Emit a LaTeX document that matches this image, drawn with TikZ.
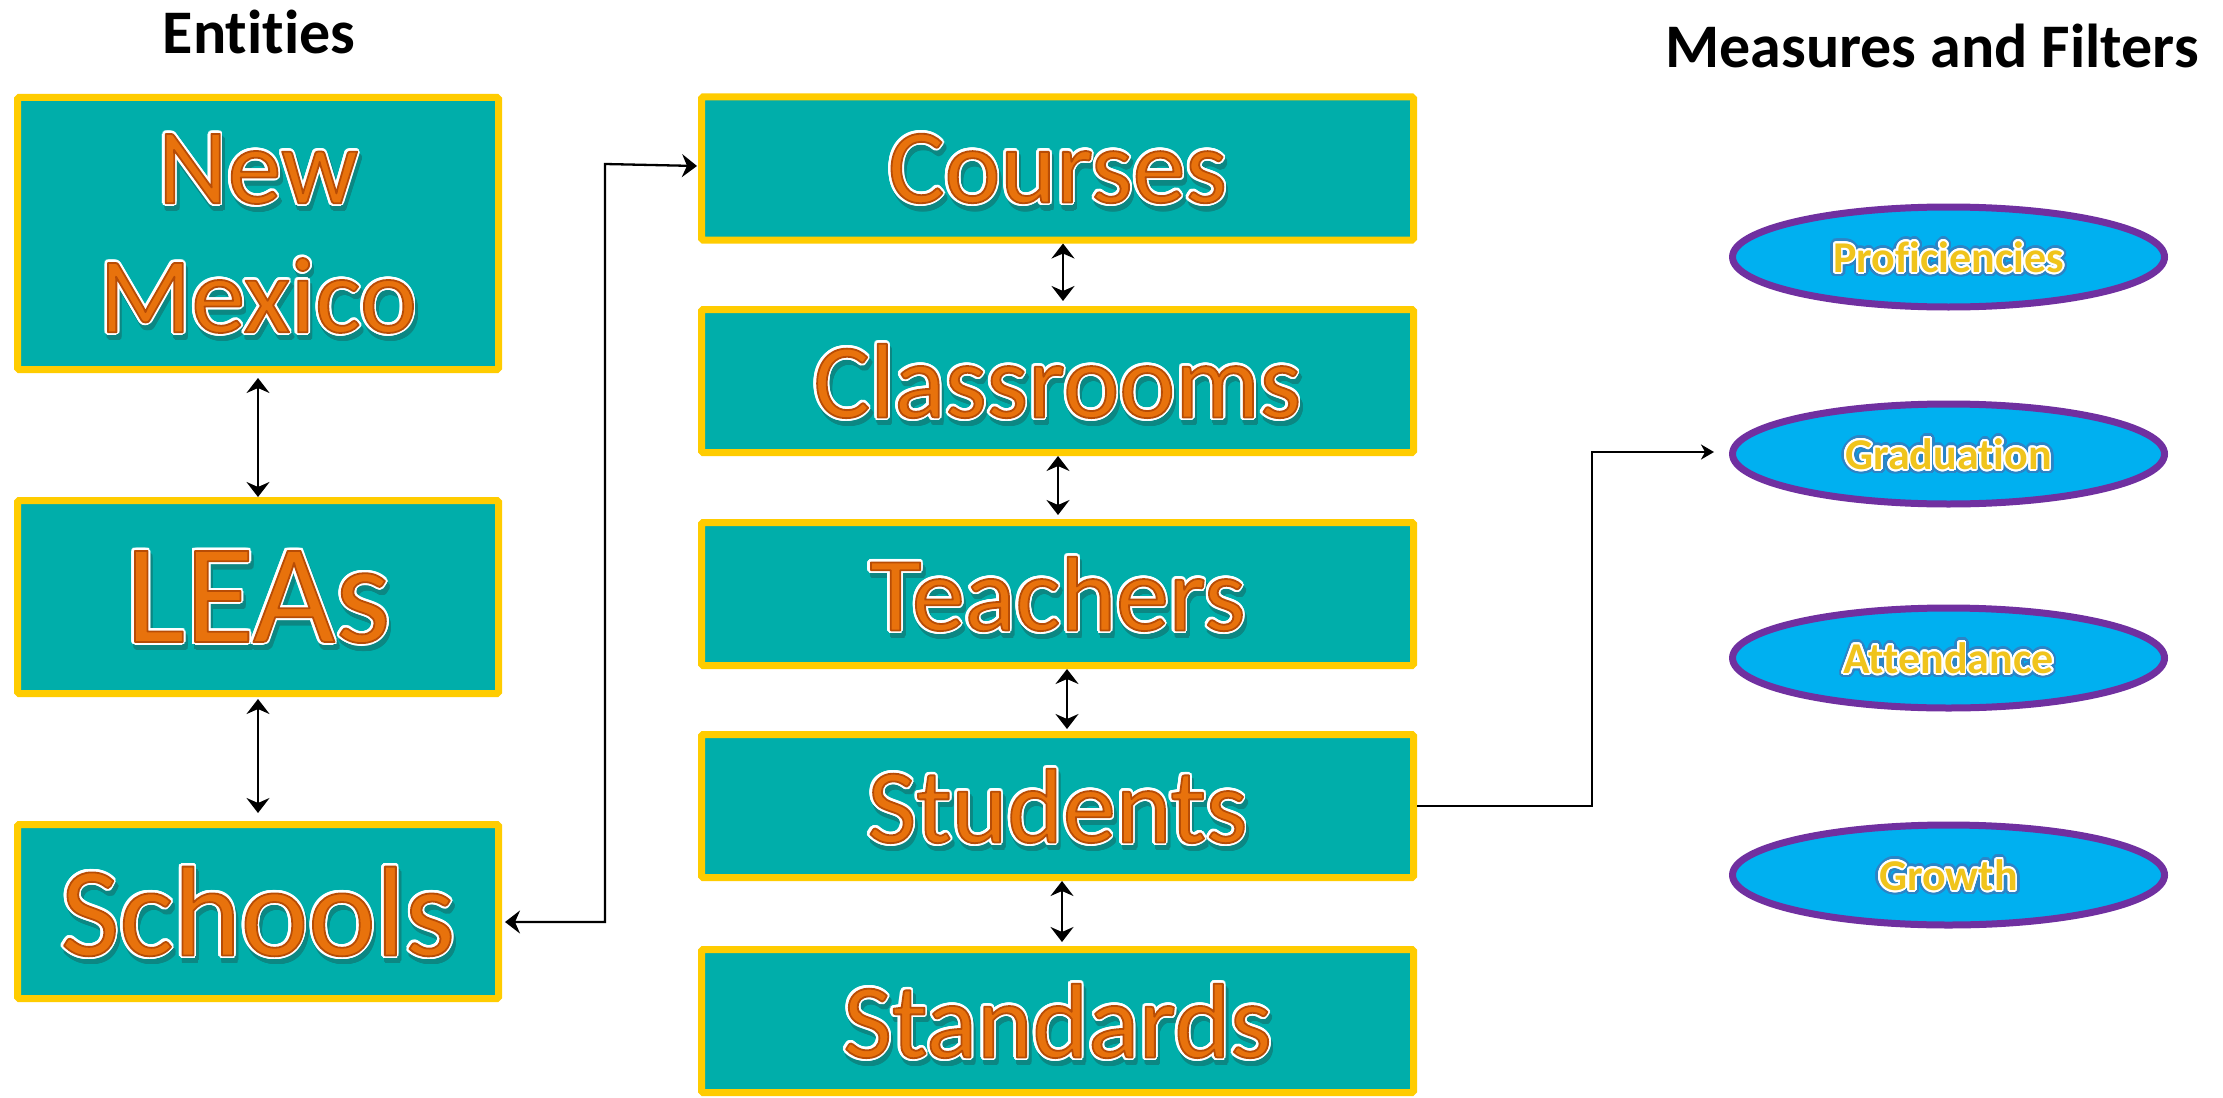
\documentclass[tikz,border=0pt]{standalone}
\usepackage{fontspec}
\setmainfont{Carlito}[Ligatures=NoCommon]
\usepackage{contour}
\contournumber{24}
\usetikzlibrary{arrows.meta,shapes.geometric}
\definecolor{tealfill}{HTML}{00AEAA}
\definecolor{boxborder}{HTML}{FFCC00}
\definecolor{ellfill}{HTML}{00B0F0}
\definecolor{ellborder}{HTML}{7030A0}
\definecolor{ofill}{HTML}{E8720C}
\definecolor{odark}{HTML}{B84E06}
\definecolor{tshadow}{HTML}{0C8783}
\definecolor{gfill}{HTML}{F0C41C}
\definecolor{gglow}{HTML}{2C84C6}
\newcommand\orangetxt[1]{\leavevmode\setbox0\hbox{#1}%
  \raisebox{0pt}[\ht0][\dp0]{%
  \rlap{\kern2.5pt\raisebox{-5.5pt}{\contourlength{3pt}\contour{tshadow}{\color{tshadow}#1}}}%
  \rlap{\contourlength{3pt}\contour{white}{\color{white}#1}}%
  {\color{ofill}\special{pdf:code q 1 j 1.8 w 0.72 0.30 0.02 RG 2 Tr}#1\special{pdf:code 0 Tr Q}}}}
\newcommand\goldtxt[1]{\leavevmode\setbox0\hbox{#1}%
  \raisebox{0pt}[\ht0][\dp0]{%
  \rlap{\contourlength{4.5pt}\contour{gglow}{\color{gglow}#1}}%
  {\contourlength{1.8pt}\contour{white}{\color{gfill}#1}}}}
\begin{document}
\begin{tikzpicture}[x=1pt,y=-1pt,
  entity/.style={draw=boxborder, line width=7pt, fill=tealfill, rounded corners=1.5pt, inner sep=0pt, align=center},
  midbox/.style={entity, minimum width=712pt, minimum height=143pt, font=\fontsize{106}{127}\selectfont},
  measure/.style={ellipse, draw=ellborder, line width=7pt, fill=ellfill, minimum width=432pt, minimum height=100pt, inner sep=0pt, font=\fontsize{44}{50}\selectfont\bfseries},
  headtitle/.style={font=\fontsize{62}{70}\selectfont\bfseries, anchor=base, inner sep=0pt},
  biarrow/.style={line width=2.3pt, {Stealth[length=15pt,width=23pt,inset=5pt]}-{Stealth[length=15pt,width=23pt,inset=5pt]}},
  conn/.style={line width=2.3pt}]
\fill[white] (0,0) rectangle (2223,1097);
\useasboundingbox (0,0) rectangle (2223,1097);

% titles
\node[headtitle] (t1) at (259,54) {Entities};
\node[headtitle] (t2) at (1932,68) {Measures and Filters};

% left column
\node[entity, minimum width=481pt, minimum height=272pt, font=\fontsize{108}{129}\selectfont] (nm) at (258,233.5) {\orangetxt{New}\\\orangetxt{Mexico}};
\node[entity, minimum width=481pt, minimum height=193pt, font=\fontsize{142}{160}\selectfont] (leas) at (258,597) {\orangetxt{LEAs}};
\node[entity, minimum width=481pt, minimum height=174pt, font=\fontsize{128}{150}\selectfont] (schools) at (258,911.5) {\orangetxt{Schools}};

% middle column
\node[midbox] (courses) at (1057.5,168.5) {\orangetxt{Courses}};
\node[midbox] (classrooms) at (1057.5,381) {\orangetxt{Classrooms}};
\node[midbox] (teachers) at (1057.5,594) {\orangetxt{Teachers}};
\node[midbox] (students) at (1057.5,806) {\orangetxt{Students}};
\node[midbox] (standards) at (1057.5,1021) {\orangetxt{Standards}};

% measures
\node[measure] (prof) at (1948.5,257) {\goldtxt{Proficiencies}};
\node[measure] (grad) at (1948.5,454) {\goldtxt{Graduation}};
\node[measure] (att) at (1948.5,658) {\goldtxt{Attendance}};
\node[measure] (growth) at (1948.5,875) {\goldtxt{Growth}};

% vertical double arrows
\draw[biarrow, shorten <=5pt] (nm.south) -- (leas.north);
\draw[biarrow, shorten <=2pt, shorten >=8pt] (leas.south) -- (schools.north);
\draw[biarrow, shorten >=5pt] ([xshift=5.5pt]courses.south) -- ([xshift=5.5pt]classrooms.north);
\draw[biarrow, shorten >=4pt] ([xshift=0.5pt]classrooms.south) -- ([xshift=0.5pt]teachers.north);
\draw[biarrow, shorten >=2pt] ([xshift=9.5pt]teachers.south) -- ([xshift=9.5pt]students.north);
\draw[biarrow, shorten >=4pt] ([xshift=4.5pt]students.south) -- ([xshift=4.5pt]standards.north);

% schools <-> courses
\coordinate (j1) at (605,922);
\coordinate (j2) at (605,164);
\draw[conn, {Stealth[length=15pt,width=23pt,inset=5pt]}-{Stealth[length=15pt,width=23pt,inset=5pt]}, line join=miter]
  ([yshift=-10.5pt,xshift=3pt]schools.east) -- (j1) -- (j2) -- ([yshift=2.5pt,xshift=-1pt]courses.west);

% students -> graduation
\coordinate (k1) at (1592,806);
\coordinate (k2) at (1592,452);
\coordinate (k3) at ([xshift=-15pt,yshift=2pt]grad.west);
\draw[conn, -{Stealth[length=13pt,width=15pt,inset=4pt]}, line join=miter]
  (students.east) -- (k1) -- (k2) -- (k3);
\end{tikzpicture}
\end{document}
